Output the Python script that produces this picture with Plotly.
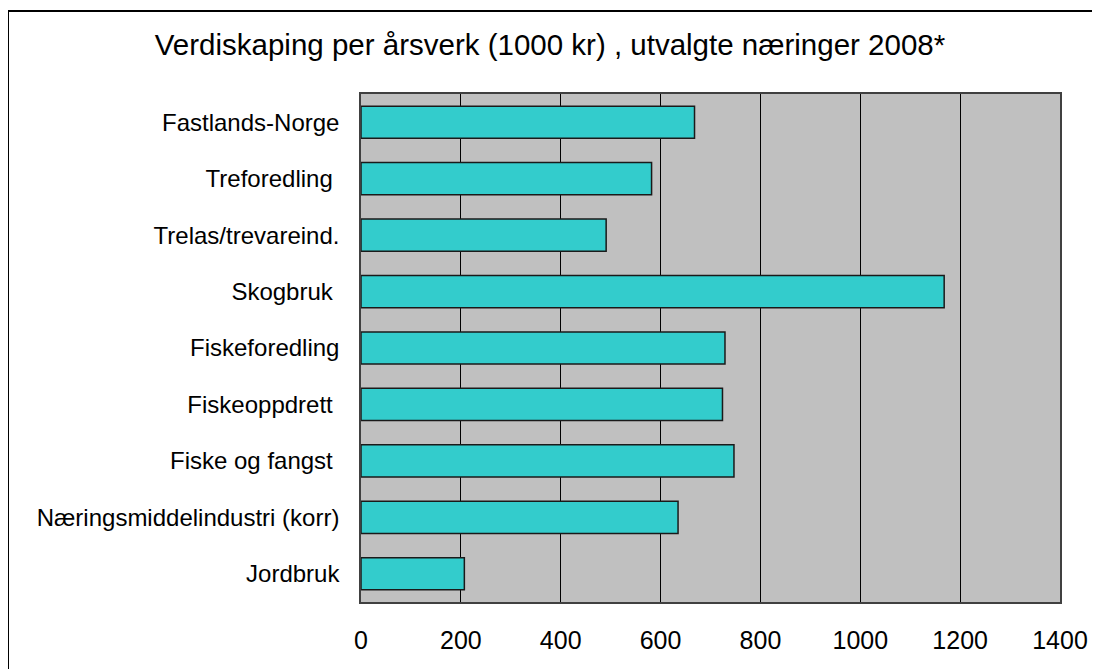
import plotly.graph_objects as go

categories = ["Fastlands-Norge", "Treforedling\u00a0", "Trelas/trevareind.", "Skogbruk\u00a0",
              "Fiskeforedling", "Fiskeoppdrett\u00a0", "Fiske og fangst\u00a0",
              "Næringsmiddelindustri (korr)", "Jordbruk"]
values = [668, 582, 491, 1168, 729, 724, 747, 635, 207]
x_ticks = [0, 200, 400, 600, 800, 1000, 1200, 1400]

title_text = "Verdiskaping per årsverk (1000 kr) , utvalgte næringer 2008*"
FONT = "Liberation Sans, Arial, sans-serif"

PL, PT, PW, PH = 353, 86, 699, 508  # plot area in figure pixels

fig = go.Figure(go.Bar(
    y=categories, x=values, orientation="h",
    marker=dict(color="#33CCCC", line=dict(color="#1a1a1a", width=1.5)),
    width=0.57,
))

fig.update_layout(
    width=1100, height=669,
    margin=dict(l=PL, r=1100 - PL - PW, t=PT, b=669 - PT - PH),
    paper_bgcolor="white", plot_bgcolor="#C0C0C0",
    showlegend=False,
    title=dict(text=title_text, x=542 / 1100, xanchor="center",
               y=1 - 37 / 669, yanchor="middle",
               font=dict(family=FONT, size=29.5, color="black")),
    xaxis=dict(range=[0, 1400], tickvals=x_ticks, showgrid=True, gridcolor="black", gridwidth=1.3,
               showline=True, linecolor="#404040", linewidth=1.5, mirror=True, zeroline=False,
               ticks="", ticklabelstandoff=15,
               tickfont=dict(family=FONT, size=25, color="black"), fixedrange=True),
    yaxis=dict(categoryorder="array", categoryarray=categories, autorange="reversed",
               showgrid=False, showline=True, linecolor="#404040", linewidth=1.5, mirror=True,
               ticks="", ticklabelstandoff=15,
               tickfont=dict(family=FONT, size=24, color="black"), fixedrange=True),
    shapes=[dict(type="rect", xref="paper", yref="paper",
                 x0=(0 - PL) / PW, x1=(1130 - PL) / PW,
                 y0=-(100) / PH, y1=(PH + PT - 3) / PH,
                 line=dict(color="black", width=2), fillcolor="rgba(0,0,0,0)", layer="below")],
)

fig.write_html("out.html")
